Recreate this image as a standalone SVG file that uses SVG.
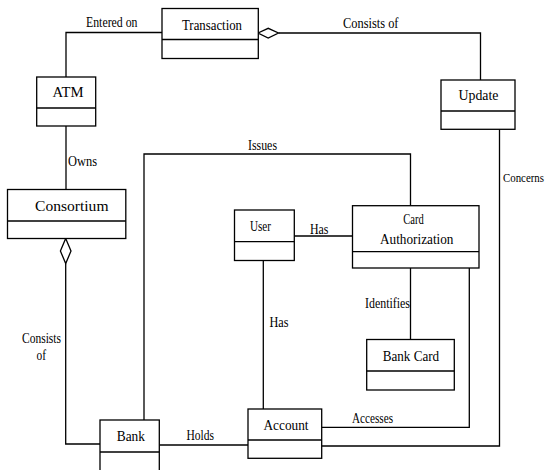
<svg xmlns="http://www.w3.org/2000/svg" width="548" height="470" viewBox="0 0 548 470" font-family="'Liberation Serif', 'DejaVu Serif', serif">
<style>
.box{fill:#fff;stroke:#000;stroke-width:1.3}
.div{stroke:#000;stroke-width:1.3}
.ln{fill:none;stroke:#000;stroke-width:1.3}
.dia{fill:#fff;stroke:#000;stroke-width:1.3}
text{font-family:'Liberation Serif','DejaVu Serif',serif;font-size:15px;fill:#000}
</style>
<rect width="548" height="470" fill="#fff"/>
<g id="connectors">
<polyline class="ln" points="162,32.5 66,32.5 66,77"/>
<text x="86" y="26.5" textLength="51.5" lengthAdjust="spacingAndGlyphs">Entered on</text>
<line class="ln" x1="66" y1="126" x2="66" y2="189.5"/>
<text x="68" y="166" textLength="29" lengthAdjust="spacingAndGlyphs">Owns</text>
<polyline class="ln" points="278.5,33 480.5,33 480.5,80"/>
<polygon class="dia" points="258,33 268.2,28.3 278.5,33 268.2,38"/>
<text x="343" y="28" textLength="55.5" lengthAdjust="spacingAndGlyphs">Consists of</text>
<polyline class="ln" points="499.5,129 499.5,446 321.5,446"/>
<text x="503" y="181.5" style="font-size:12px" textLength="41" lengthAdjust="spacingAndGlyphs">Concerns</text>
<polyline class="ln" points="65.7,263.5 65.7,444 100,444"/>
<polygon class="dia" points="65.7,238.5 71,251 65.7,263.5 60.4,251"/>
<text x="22" y="343" textLength="39" lengthAdjust="spacingAndGlyphs">Consists</text>
<text x="36.5" y="360" textLength="9.5" lengthAdjust="spacingAndGlyphs">of</text>
<line class="ln" x1="159.5" y1="445" x2="248" y2="445"/>
<text x="186.5" y="440" textLength="27.5" lengthAdjust="spacingAndGlyphs">Holds</text>
<polyline class="ln" points="144,420 144,154 410.5,154 410.5,205.5"/>
<text x="248" y="150" textLength="29" lengthAdjust="spacingAndGlyphs">Issues</text>
<line class="ln" x1="294" y1="236" x2="352.5" y2="236"/>
<text x="310" y="234" textLength="18.5" lengthAdjust="spacingAndGlyphs">Has</text>
<line class="ln" x1="263.3" y1="260.5" x2="263.3" y2="409"/>
<text x="269.5" y="326.5" textLength="19" lengthAdjust="spacingAndGlyphs">Has</text>
<line class="ln" x1="410.5" y1="268" x2="410.5" y2="339.5"/>
<text x="365" y="308" textLength="45" lengthAdjust="spacingAndGlyphs">Identifies</text>
<polyline class="ln" points="321.5,427.3 469.3,427.3 469.3,268"/>
<text x="352" y="423" textLength="41" lengthAdjust="spacingAndGlyphs">Accesses</text>
</g>
<g id="transaction">
<rect class="box" x="162" y="8.5" width="96.3" height="50"/>
<line class="div" x1="162" y1="39.5" x2="258.3" y2="39.5"/>
<text x="182" y="29.5" textLength="60" lengthAdjust="spacingAndGlyphs">Transaction</text>
</g>
<g id="atm">
<rect class="box" x="36.7" y="77" width="59" height="49"/>
<line class="div" x1="36.7" y1="108" x2="95.7" y2="108"/>
<text x="52.5" y="97" textLength="31" lengthAdjust="spacingAndGlyphs">ATM</text>
</g>
<g id="update">
<rect class="box" x="441" y="80" width="74" height="49.3"/>
<line class="div" x1="441" y1="111" x2="515" y2="111"/>
<text x="458.5" y="99.5" textLength="40" lengthAdjust="spacingAndGlyphs">Update</text>
</g>
<g id="consortium">
<rect class="box" x="7.5" y="189.5" width="118.3" height="49"/>
<line class="div" x1="7.5" y1="221" x2="125.8" y2="221"/>
<text x="35" y="210.5" textLength="73.5" lengthAdjust="spacingAndGlyphs">Consortium</text>
</g>
<g id="user">
<rect class="box" x="234.5" y="210" width="59.8" height="50.5"/>
<line class="div" x1="234.5" y1="241.7" x2="294.3" y2="241.7"/>
<text x="250" y="230.5" textLength="21" lengthAdjust="spacingAndGlyphs">User</text>
</g>
<g id="card-authorization">
<rect class="box" x="352.5" y="205.7" width="126.5" height="62.3"/>
<line class="div" x1="352.5" y1="251.7" x2="479" y2="251.7"/>
<text x="403.3" y="223.5" textLength="20.5" lengthAdjust="spacingAndGlyphs">Card</text>
<text x="380" y="244" textLength="73.5" lengthAdjust="spacingAndGlyphs">Authorization</text>
</g>
<g id="bank-card">
<rect class="box" x="366.7" y="339.5" width="87.6" height="50.5"/>
<line class="div" x1="366.7" y1="371" x2="454.3" y2="371"/>
<text x="382.7" y="361" textLength="56.5" lengthAdjust="spacingAndGlyphs">Bank Card</text>
</g>
<g id="account">
<rect class="box" x="248" y="409" width="73.7" height="49.3"/>
<line class="div" x1="248" y1="440" x2="321.7" y2="440"/>
<text x="263.5" y="430" textLength="45" lengthAdjust="spacingAndGlyphs">Account</text>
</g>
<g id="bank">
<rect class="box" x="100" y="420" width="59.3" height="62"/>
<line class="div" x1="100" y1="452" x2="159.3" y2="452"/>
<text x="116.7" y="441" textLength="28.3" lengthAdjust="spacingAndGlyphs">Bank</text>
</g>
</svg>
